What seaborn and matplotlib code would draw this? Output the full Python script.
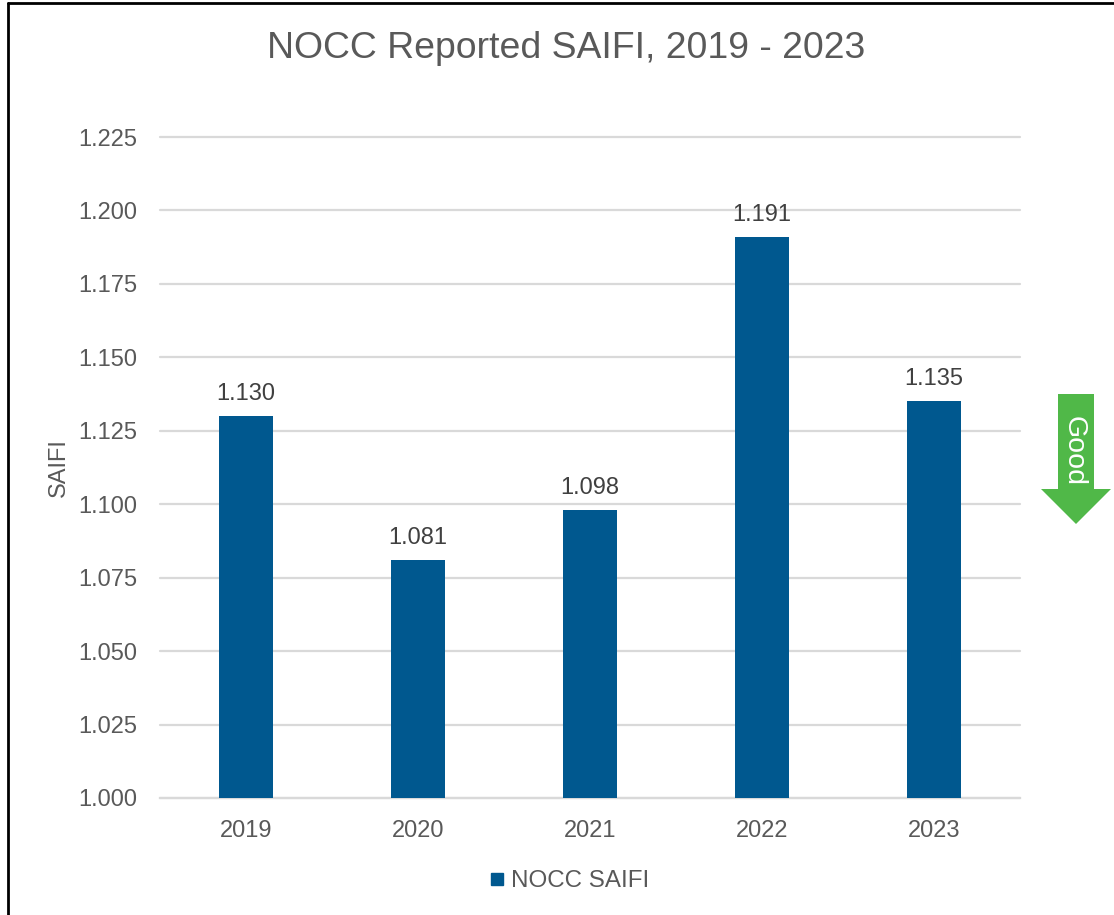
import pandas as pd
import seaborn as sns
import matplotlib
matplotlib.use("Agg")
import matplotlib.pyplot as plt
from matplotlib.lines import Line2D
from matplotlib.patches import Polygon

years = ["2019", "2020", "2021", "2022", "2023"]
saifi = [1.130, 1.081, 1.098, 1.191, 1.135]
y_ticks = [1.000, 1.025, 1.050, 1.075, 1.100, 1.125, 1.150, 1.175, 1.200, 1.225]

W, H = 1114, 915
TXT = "#595959"
BLUE = "#00588F"
GREEN = "#50B848"
FS = 17

sns.set_theme(style="white")
plt.rcParams['font.family'] = ['Liberation Sans', 'DejaVu Sans']

df = pd.DataFrame({"year": years, "SAIFI": saifi})

fig = plt.figure(figsize=(W / 100, H / 100), dpi=100, facecolor="white")
# plot area in pixels: x 160-1020, y 137-798
ax = fig.add_axes([160 / W, 1 - 798 / H, 860 / W, 661 / H])

sns.barplot(data=df, x="year", y="SAIFI", color=BLUE, width=0.316, saturation=1,
            ax=ax, zorder=3, label="NOCC SAIFI", linewidth=0)
ax.set_ylim(1.0, 1.225)
ax.set_xlim(-0.5, 4.5)
ax.set_yticks(y_ticks)
ax.set_yticklabels(["%.3f" % v for v in y_ticks])
ax.grid(axis="y", color="#D9D9D9", lw=1.6, zorder=0, clip_on=False)
ax.set_axisbelow(True)
for s in ["top", "right", "left"]:
    ax.spines[s].set_visible(False)
ax.spines["bottom"].set_color("#D9D9D9")
ax.spines["bottom"].set_linewidth(1.6)
ax.tick_params(axis="both", length=0, labelsize=FS, labelcolor=TXT)
ax.tick_params(axis="y", pad=16.5)
ax.tick_params(axis="x", pad=15.5)
ax.set_xlabel("")
ax.set_ylabel("SAIFI", fontsize=FS, color=TXT, labelpad=6)

for c in ax.containers:
    ax.bar_label(c, fmt="%.3f", fontsize=FS, color="#404040", padding=8)

ax.legend(handles=[Line2D([], [], ls="", marker="s", ms=8.5, color=BLUE)],
          labels=["NOCC SAIFI"], loc="center", frameon=False, fontsize=17.4,
          labelcolor=TXT, bbox_to_anchor=(561 / W, 1 - 881 / H),
          bbox_transform=fig.transFigure, handletextpad=-0.44)

fig.text(566 / W, 1 - 48 / H, "NOCC Reported SAIFI, 2019 - 2023", fontsize=26.9,
         color=TXT, ha="center", va="center")

# "Good" arrow right of the plot
arrow_px = [(1058, 394), (1094, 394), (1094, 489), (1111, 489),
            (1076, 524), (1041, 489), (1058, 489)]
fig.patches.append(Polygon([(x / W, 1 - y / H) for x, y in arrow_px], closed=True,
                           transform=fig.transFigure, fc=GREEN, ec="none"))
fig.text(1074 / W, 1 - 451 / H, "Good", rotation=270, fontsize=20.5, color="white",
         ha="center", va="center")

# black frame, only top and left edges show
fig.add_artist(Line2D([8 / W, 8 / W], [0, 1 - 3 / H], color="black", lw=2, transform=fig.transFigure))
fig.add_artist(Line2D([8 / W, 1], [1 - 3 / H, 1 - 3 / H], color="black", lw=2, transform=fig.transFigure))

fig.savefig("out.png", dpi=100)
